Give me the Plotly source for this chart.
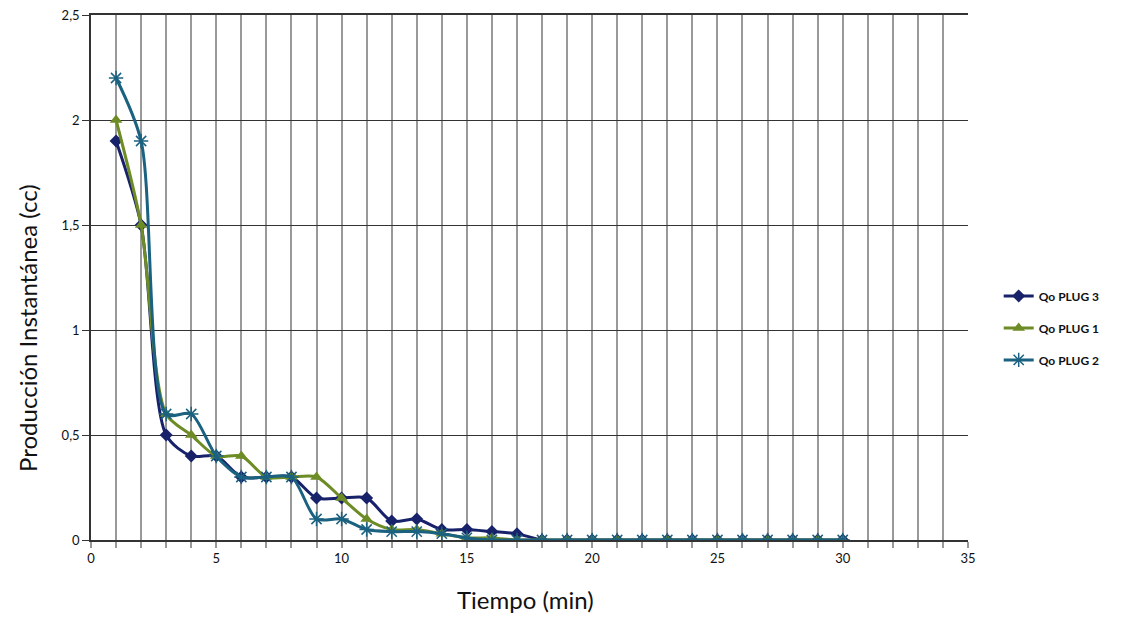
import plotly.graph_objects as go

tiempo = list(range(1, 31))
plug3 = [1.9, 1.5, 0.5, 0.4, 0.4, 0.3, 0.3, 0.3, 0.2, 0.2, 0.2, 0.09, 0.1, 0.05, 0.05,
         0.04, 0.03, 0, 0, 0, 0, 0, 0, 0, 0, 0, 0, 0, 0, 0]
plug1 = [2.0, 1.5, 0.6, 0.5, 0.4, 0.4, 0.3, 0.3, 0.3, 0.2, 0.1, 0.05, 0.05, 0.03, 0.01,
         0.01, 0, 0, 0, 0, 0, 0, 0, 0, 0, 0, 0, 0, 0, 0]
plug2 = [2.2, 1.9, 0.6, 0.6, 0.4, 0.3, 0.3, 0.3, 0.1, 0.1, 0.05, 0.04, 0.04, 0.03, 0.01,
         0.0, 0, 0, 0, 0, 0, 0, 0, 0, 0, 0, 0, 0, 0, 0]

series = [
    ("Qo PLUG 3", plug3, "#17226A", "diamond", 10),
    ("Qo PLUG 1", plug1, "#6E8C25", "triangle-up", 11),
    ("Qo PLUG 2", plug2, "#1B6180", "asterisk-open", 12),
]

fig = go.Figure()
for name, ys, color, sym, size in series:
    fig.add_trace(go.Scatter(
        x=tiempo, y=ys, name=name, legendgroup=name,
        mode="lines+markers",
        line=dict(color=color, width=3, shape="spline", smoothing=0.8),
        marker=dict(symbol=sym, size=size, color=color,
                    line=dict(color="#2a8fb0" if sym == "asterisk-open" else color,
                              width=1.5 if sym == "asterisk-open" else 0)),
    ))

font_family = "Lato, 'Open Sans', sans-serif"
fig.update_layout(
    width=1122, height=618,
    margin=dict(l=91, r=154, t=15, b=78),
    paper_bgcolor="white", plot_bgcolor="white",
    separators=",.",
    font=dict(family=font_family, size=13, color="#111"),
    showlegend=True,
    legend=dict(x=1.035, y=0.404, xanchor="left", yanchor="middle",
                traceorder="grouped", tracegroupgap=13,
                font=dict(size=12, color="#111", weight="bold"),
                bgcolor="rgba(0,0,0,0)"),
    xaxis=dict(
        range=[0, 35], dtick=5, tick0=0,
        showgrid=True, gridcolor="#999999", gridwidth=2,
        minor=dict(dtick=1, showgrid=True, gridcolor="#999999", gridwidth=2,
                   ticks="outside", ticklen=6, tickcolor="#999999", tickwidth=2),
        ticks="outside", ticklen=6, tickcolor="#999999", tickwidth=2,
        showline=True, linecolor="#333", linewidth=1.5, mirror=True,
        zeroline=False, automargin=False,
        tickfont=dict(size=13, color="#111"),
    ),
    yaxis=dict(
        range=[0, 2.5], dtick=0.5, tick0=0,
        showgrid=True, gridcolor="#333", gridwidth=1.3,
        ticks="outside", ticklen=7, tickcolor="#333",
        showline=True, linecolor="#333", linewidth=1.5,
        zeroline=False, automargin=False,
        tickfont=dict(size=13, color="#111"),
    ),
    annotations=[
        dict(text="Producción Instantánea (cc)", textangle=-90,
             xref="paper", yref="paper", x=-0.0718, y=0.404,
             xanchor="center", yanchor="middle", showarrow=False,
             font=dict(size=24, color="#111", family=font_family)),
        dict(text="Tiempo (min)",
             xref="paper", yref="paper", x=0.495, y=-0.114,
             xanchor="center", yanchor="middle", showarrow=False,
             font=dict(size=24, color="#111", family=font_family)),
    ],
)

fig.write_html("out.html")
